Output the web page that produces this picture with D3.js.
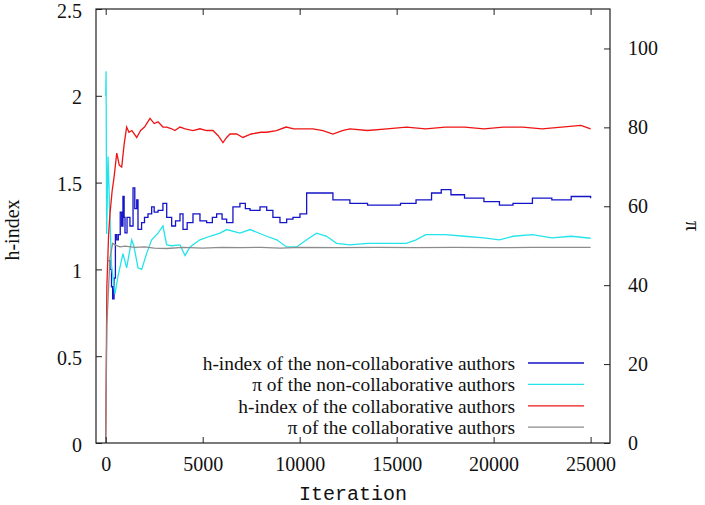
<!DOCTYPE html>
<html>
  <head>
    <title>h-index and pi over iterations</title>
    <script src="https://d3js.org/d3.v7.min.js"></script>
    <style>
      body { margin: 0; background: #fff; }
      text { font-family: "Liberation Serif", "Times New Roman", serif; font-size: 20px; fill: #111; }
    </style>
  </head>
  <body>
    <svg width="705" height="505"></svg>
    <script>
      // values: [iteration, value]
      const hNonCollab = [
        [150,1.05],[220,1.0],[300,0.9],[360,0.83],[430,0.95],[500,1.2],[570,1.17],[650,1.2],
        [750,1.33],[825,1.25],[890,1.42],[950,1.3],[995,1.21],[1100,1.3],[1250,1.25],[1410,1.47],
        [1500,1.35],[1600,1.4],[1665,1.23],[1850,1.27],[2000,1.3],[2180,1.32],[2370,1.36],[2500,1.33],
        [2700,1.34],[2950,1.38],[3145,1.30],[3400,1.25],[3600,1.28],[3830,1.32],[3985,1.23],[4200,1.27],
        [4500,1.32],[4860,1.28],[5205,1.27],[5500,1.30],[5720,1.32],[6000,1.29],[6235,1.27],[6560,1.36],
        [6920,1.38],[7200,1.35],[7440,1.34],[7955,1.36],[8300,1.34],[8620,1.30],[8985,1.27],[9330,1.29],
        [9655,1.30],[10015,1.32],[10360,1.44],[10700,1.44],[11045,1.44],[11715,1.40],[12590,1.38],
        [13500,1.37],[14500,1.37],[15200,1.38],[16000,1.40],[16800,1.44],[17300,1.46],[17800,1.43],
        [18500,1.41],[19500,1.39],[20300,1.37],[21000,1.38],[22000,1.41],[23000,1.40],[24000,1.42],[25000,1.41]
      ];
      const piNonCollab = [
        [0,88],[20,94.2],[50,53],[120,72.6],[200,60],[300,45],[480,37.8],[630,42.2],[890,48],
        [1080,44.4],[1340,51.5],[1450,50],[1665,44.4],[1855,44],[2110,48],[2370,51.5],[2700,53.2],
        [2950,55],[3145,50.2],[3400,50],[3830,50.2],[4090,47.5],[4345,49.7],[4860,51.5],[5375,52.4],
        [5890,53.2],[6235,54.1],[6920,53.2],[7440,54.1],[8300,52.4],[8815,51.5],[9330,49.7],[9845,49.7],
        [10360,51.5],[10875,53.2],[11390,52.4],[11905,50.6],[12590,50.2],[13500,50.6],[14500,50.6],
        [15500,50.6],[16000,51.5],[16500,52.8],[17500,52.8],[18500,52.4],[19500,52],[20300,51.5],
        [21000,52.4],[22000,52.8],[23000,52],[24000,52.4],[25000,51.9]
      ];
      const hCollab = [
        [0,0.0],[60,0.9],[150,1.2],[220,1.32],[330,1.45],[430,1.53],[570,1.67],[700,1.6],[825,1.59],
        [950,1.72],[1080,1.82],[1200,1.79],[1350,1.8],[1600,1.76],[1800,1.8],[2000,1.82],[2285,1.87],
        [2500,1.84],[2700,1.85],[2950,1.82],[3145,1.82],[3400,1.81],[3570,1.80],[3830,1.82],[4100,1.81],
        [4500,1.80],[4860,1.81],[5200,1.80],[5530,1.80],[5800,1.77],[6045,1.73],[6235,1.76],[6410,1.78],
        [6750,1.78],[7075,1.76],[7500,1.78],[8000,1.79],[8300,1.79],[8800,1.80],[9300,1.82],[9700,1.81],
        [10300,1.81],[10685,1.81],[11200,1.80],[11715,1.78],[12200,1.80],[12590,1.81],[13500,1.80],
        [14500,1.81],[15500,1.82],[16500,1.81],[17500,1.82],[18500,1.82],[19500,1.81],[20500,1.82],
        [21500,1.82],[22500,1.81],[23500,1.82],[24500,1.83],[25000,1.81]
      ];
      const piCollab = [
        [0,0],[60,30],[220,47],[360,50.6],[570,50],[740,49.7],[1000,49.9],[1500,49.6],[2000,49.7],
        [2500,49.4],[3145,49.3],[4000,49.6],[5000,49.4],[6000,49.6],[7000,49.5],[8000,49.6],[9000,49.4],
        [10000,49.6],[12000,49.5],[14000,49.6],[16000,49.5],[18000,49.6],[20000,49.5],[22000,49.6],[25000,49.6]
      ];

      const xTicks = [0, 5000, 10000, 15000, 20000, 25000];
      const yLeftTicks = [0, 0.5, 1, 1.5, 2, 2.5];
      const yRightTicks = [0, 20, 40, 60, 80, 100];

      const seriesNames = [
        "h-index of the non-collaborative authors",
        "\u03c0 of the non-collaborative authors",
        "h-index of the collaborative authors",
        "\u03c0 of the collaborative authors"
      ];
      const seriesColors = ["#1414c8", "#22e4ea", "#ee1414", "#8c8c8c"];

      const svg = d3.select("svg");
      const plotL = 96, plotR = 610, plotT = 9, plotB = 443;

      const x = d3.scaleLinear().domain([-500, 26000]).range([plotL, plotR]);
      const yL = d3.scaleLinear().domain([0, 2.5]).range([plotB, plotT]);
      const yR = d3.scaleLinear().domain([0, 110]).range([plotB, plotT]);

      const series = [
        { data: hNonCollab, y: yL, curve: d3.curveStepAfter },
        { data: piNonCollab, y: yR, curve: d3.curveLinear },
        { data: hCollab, y: yL, curve: d3.curveLinear },
        { data: piCollab, y: yR, curve: d3.curveLinear }
      ];

      // lines
      series.forEach((s, i) => {
        const line = d3.line().curve(s.curve).x(d => x(d[0])).y(d => s.y(d[1]));
        svg.append("path")
          .datum(s.data)
          .attr("fill", "none")
          .attr("stroke", seriesColors[i])
          .attr("stroke-width", 1.3)
          .attr("d", line);
      });

      // axes, ticks pointing inward
      const fmt = d => String(d);
      svg.append("g")
        .attr("transform", `translate(0,${plotB})`)
        .call(d3.axisBottom(x).tickValues(xTicks).tickSize(-6).tickPadding(14).tickFormat(fmt));
      svg.append("g")
        .attr("transform", `translate(0,${plotT})`)
        .call(d3.axisTop(x).tickValues(xTicks).tickSize(-6).tickFormat(""));
      svg.append("g")
        .attr("class", "yleft")
        .attr("transform", `translate(${plotL},0)`)
        .call(d3.axisLeft(yL).tickValues(yLeftTicks).tickSize(-6).tickPadding(14).tickFormat(fmt));
      svg.append("g")
        .attr("transform", `translate(${plotR},0)`)
        .call(d3.axisRight(yR).tickValues(yRightTicks).tickSize(-6).tickPadding(18).tickFormat(fmt));

      svg.selectAll(".domain").remove();
      svg.selectAll(".tick line").attr("stroke", "#222");
      svg.selectAll(".tick text").attr("fill", "#111");
      svg.selectAll(".yleft .tick text").attr("dy", "0.4em");

      // frame
      svg.append("rect")
        .attr("x", plotL).attr("y", plotT)
        .attr("width", plotR - plotL).attr("height", plotB - plotT)
        .attr("fill", "none").attr("stroke", "#222").attr("stroke-width", 1.2);

      // axis titles
      svg.append("text")
        .attr("x", 353).attr("y", 500)
        .attr("text-anchor", "middle")
        .style("font-family", "'Liberation Mono', monospace")
        .text("Iteration");
      svg.append("text")
        .attr("transform", "translate(19,230) rotate(-90)")
        .attr("text-anchor", "middle")
        .text("h-index");
      svg.append("text")
        .attr("transform", "translate(686,226) rotate(90)")
        .attr("text-anchor", "middle")
        .text("\u03c0");

      // legend
      const legend = svg.append("g");
      seriesNames.forEach((name, i) => {
        const ly = 363 + i * 21.4;
        legend.append("text")
          .attr("x", 515).attr("y", ly).attr("dy", "0.35em")
          .attr("text-anchor", "end")
          .style("font-size", "19.4px")
          .text(name);
        legend.append("line")
          .attr("x1", 528).attr("x2", 584)
          .attr("y1", ly).attr("y2", ly)
          .attr("stroke", seriesColors[i]).attr("stroke-width", 1.3);
      });
    </script>
  </body>
</html>
